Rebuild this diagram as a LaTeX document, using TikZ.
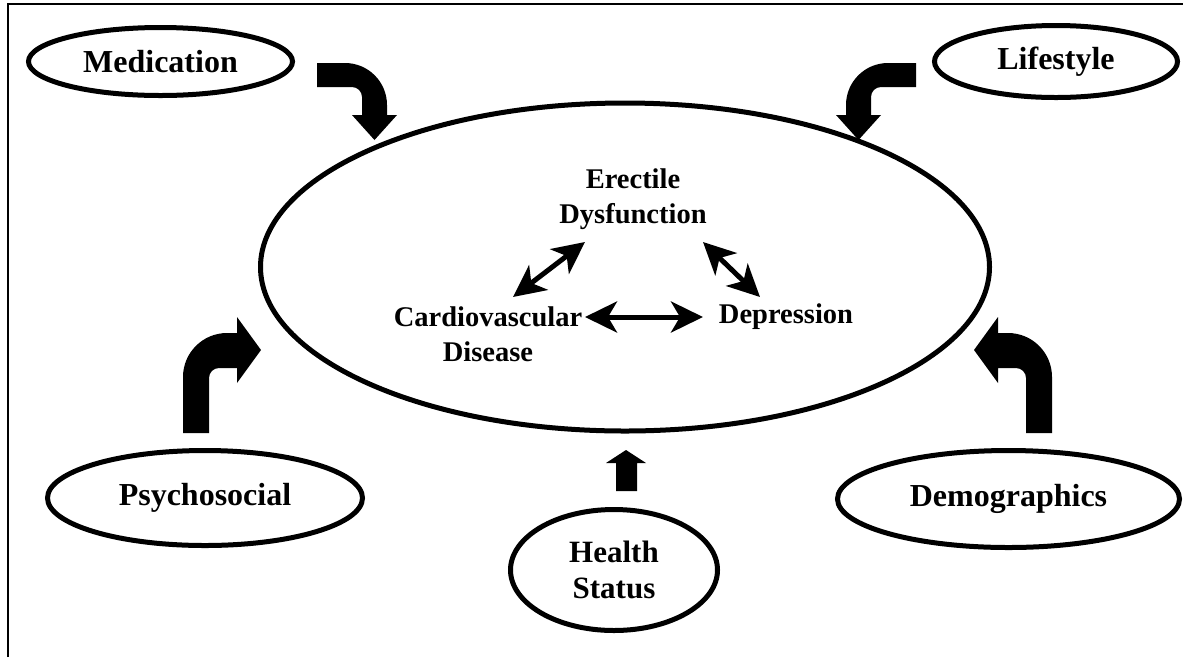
\documentclass[tikz,border=0pt]{standalone}
\usepackage{fontspec}
\setmainfont{Liberation Serif}
\usetikzlibrary{shapes.geometric,arrows.meta}
\begin{document}
\begin{tikzpicture}[x=1pt,y=-1pt,
  oval/.style={ellipse, draw, line width=5pt, inner sep=0pt, align=center,
    font=\fontsize{32}{36}\selectfont\bfseries},
  innertext/.style={inner sep=2pt, align=center,
    font=\fontsize{28.5}{35}\selectfont\bfseries},
  tipstyle/.style={},
  dbl/.style={line width=5pt,
    {Stealth[length=32pt,width=31pt,inset=9pt]}-{Stealth[length=32pt,width=31pt,inset=9pt]}},
  blockarrow/.style={fill=black}]
\useasboundingbox (0,0) rectangle (1185,657);
% frame (top and left)
\draw[line width=1.5pt] (8,657) -- (8,4) -- (1183,4);

% main ellipse
\node[oval, minimum width=729pt, minimum height=328pt] (main) at (625,267) {};

% outer factors
\node[oval, minimum width=264pt, minimum height=68pt] (med) at (160.5,61.5) {Medication};
\node[oval, minimum width=243pt, minimum height=72pt] (life) at (1056,61.5) {Lifestyle};
\node[oval, minimum width=315pt, minimum height=95pt] (psy) at (205,498) {Psychosocial};
\node[oval, minimum width=342pt, minimum height=97pt] (demo) at (1008.5,499) {Demographics};
\node[oval, minimum width=207pt, minimum height=121pt, font=\fontsize{31}{36}\selectfont\bfseries] (health) at (614,570) {Health\\Status};

% inner texts
\node[innertext] (ed) at (633,199) {Erectile\\Dysfunction};
\node[innertext] (cvd) at (488,334) {Cardiovascular\\Disease};
\node[innertext] (dep) at (786,317) {Depression};

% double arrows
\draw[dbl] ([shift={(25pt,37pt)}]cvd.center) -- ([shift={(-48pt,-43pt)}]ed.center);
\draw[dbl] ([shift={(70pt,-43pt)}]ed.center) -- ([shift={(-26pt,20pt)}]dep.center);
\draw[dbl] ([shift={(97pt,17pt)}]cvd.center) -- ([shift={(-83pt,0pt)}]dep.center);

% block arrows
% Medication
\fill[blockarrow] (317,63) -- (345,63) .. controls (368.2,63) and (387,81.8) .. (387,105)
  -- (387,115) -- (397,115) -- (374.5,140) -- (352,115) -- (362,115) -- (362,97)
  .. controls (362,91.5) and (357.5,87) .. (352,87) -- (317,87) -- cycle;
% Lifestyle
\fill[blockarrow] (916,63) -- (888,63) .. controls (864.8,63) and (846,81.8) .. (846,105)
  -- (846,115) -- (836,115) -- (858.5,140) -- (881,115) -- (871,115) -- (871,97)
  .. controls (871,91.5) and (875.5,87) .. (881,87) -- (916,87) -- cycle;
% Psychosocial
\fill[blockarrow] (183,433) -- (183,377) .. controls (183,352.7) and (202.7,333) .. (227,333)
  -- (237,333) -- (237,317) -- (261,350) -- (237,383) -- (237,368) -- (219,368)
  .. controls (213.5,368) and (209,372.5) .. (209,378) -- (209,433) -- cycle;
% Demographics
\fill[blockarrow] (1052,433) -- (1052,377) .. controls (1052,352.7) and (1032.3,333) .. (1008,333)
  -- (998,333) -- (998,317) -- (974,350) -- (998,383) -- (998,368) -- (1016,368)
  .. controls (1021.5,368) and (1026,372.5) .. (1026,378) -- (1026,433) -- cycle;
% Health status
\fill[blockarrow] (616,491) -- (616,463) -- (606,463) -- (626,450) -- (646,463) -- (637,463) -- (637,491) -- cycle;
\end{tikzpicture}
\end{document}
